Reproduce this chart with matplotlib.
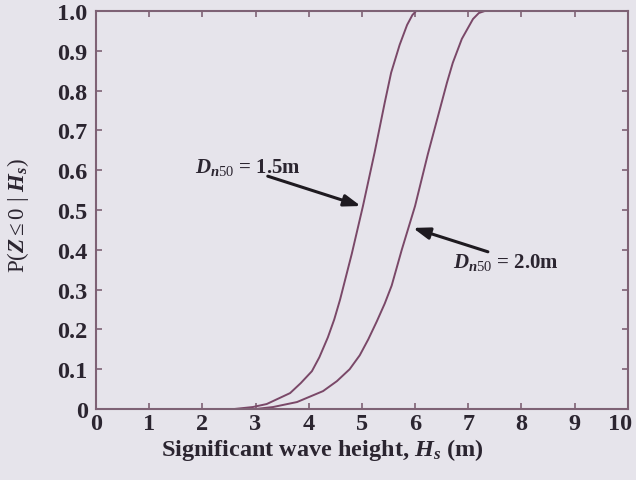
import matplotlib
matplotlib.use("Agg")
import matplotlib.pyplot as plt
import matplotlib.transforms as mtransforms

# Data
hs_15 = [2.6, 2.95, 3.21, 3.65, 3.85, 4.06, 4.2, 4.36, 4.48, 4.59, 4.81, 5.02, 5.24, 5.43, 5.55, 5.71, 5.85, 5.95, 6.02]
p_15 = [0.0, 0.005, 0.0125, 0.04, 0.065, 0.095, 0.13, 0.18, 0.225, 0.275, 0.39, 0.51, 0.645, 0.77, 0.845, 0.915, 0.965, 0.99, 1.0]
hs_20 = [3.0, 3.33, 3.78, 4.27, 4.53, 4.77, 4.96, 5.12, 5.28, 5.43, 5.56, 5.75, 6.0, 6.24, 6.47, 6.60, 6.71, 6.88, 7.09, 7.2, 7.31]
p_20 = [0.0, 0.005, 0.0175, 0.045, 0.07, 0.10, 0.135, 0.175, 0.22, 0.265, 0.31, 0.40, 0.51, 0.64, 0.755, 0.82, 0.87, 0.93, 0.98, 0.995, 1.0]
x_ticks = list(range(0, 11))
y_ticks = [0, 0.1, 0.2, 0.3, 0.4, 0.5, 0.6, 0.7, 0.8, 0.9, 1.0]
y_ticklabels = ["0", "0.1", "0.2", "0.3", "0.4", "0.5", "0.6", "0.7", "0.8", "0.9", "1.0"]
label_15 = r"$D_{n50}$ = 1.5m"
label_20 = r"$D_{n50}$ = 2.0m"

plt.rcParams["font.family"] = ["Liberation Serif", "DejaVu Serif"]
plt.rcParams["mathtext.fontset"] = "custom"
plt.rcParams["mathtext.rm"] = "Liberation Serif"
plt.rcParams["mathtext.it"] = "Liberation Serif:italic:bold"
plt.rcParams["mathtext.bf"] = "Liberation Serif:bold"

bg = "#e6e4eb"
line_c = "#7a4868"
spine_c = "#7e6275"
text_c = "#2b2530"

fig = plt.figure(figsize=(6.36, 4.81), dpi=100, facecolor=bg)
ax = fig.add_axes([0.151, 0.1476, 0.836, 0.8274], facecolor=bg)

ax.plot(hs_15, p_15, color=line_c, lw=1.4)
ax.plot(hs_20, p_20, color=line_c, lw=1.4)

ax.set_xlim(0, 10)
ax.set_ylim(0, 1.0)
ax.set_xticks(x_ticks)
ax.set_yticks(y_ticks)
ax.set_yticklabels(y_ticklabels)
ax.tick_params(direction="in", length=4, width=1.2, colors=spine_c,
               top=True, right=True, labelsize=17.5, labelcolor=text_c)
ax.tick_params(axis="y", pad=6)
ax.tick_params(axis="x", pad=3)
for lab in ax.get_xticklabels() + ax.get_yticklabels():
    lab.set_fontweight("bold")
# keep the last x label inside the canvas, as in the reference
last = ax.get_xticklabels()[-1]
last.set_transform(last.get_transform() + mtransforms.ScaledTranslation(-8 / 100, 0, fig.dpi_scale_trans))
for s in ax.spines.values():
    s.set_color(spine_c)
    s.set_linewidth(1.5)

ax.set_xlabel(r"Significant wave height, $H_s$ (m)", fontsize=17.5, fontweight="bold",
              color=text_c)
ax.xaxis.set_label_coords(0.425, -0.068)
ax.set_ylabel(r"P($Z \leq 0\ |\ H_s$)", fontsize=16.5, color=text_c)
ax.yaxis.set_label_coords(-0.122, 0.49)

ax.text(1.86, 0.61, label_15, fontsize=15, fontweight="bold", color=text_c,
        va="center", ha="left")
ax.annotate("", xy=(4.98, 0.51), xytext=(3.23, 0.585),
            arrowprops=dict(arrowstyle="-|>,head_length=1.0,head_width=0.35",
                            color="#1e1a20", lw=2.2, shrinkA=0, shrinkB=0))
ax.text(6.72, 0.37, label_20, fontsize=15, fontweight="bold", color=text_c,
        va="center", ha="left")
ax.annotate("", xy=(5.96, 0.455), xytext=(7.37, 0.395),
            arrowprops=dict(arrowstyle="-|>,head_length=1.0,head_width=0.35",
                            color="#1e1a20", lw=2.2, shrinkA=0, shrinkB=0))

fig.savefig("out.png", dpi=100, facecolor=bg)
